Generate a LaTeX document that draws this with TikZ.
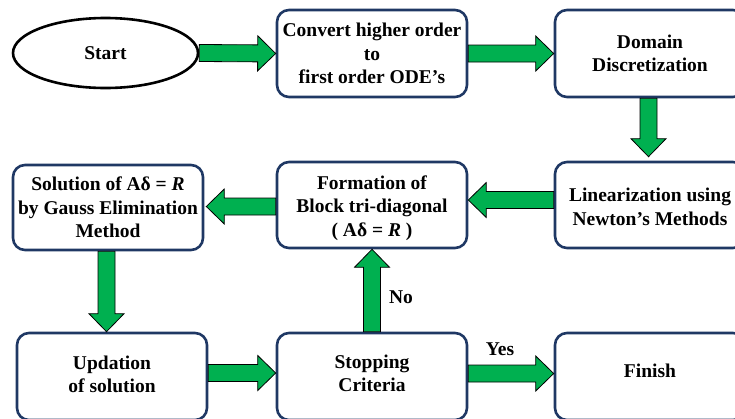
\documentclass[tikz,border=0pt]{standalone}
\usepackage{fontspec}
\setmainfont{Liberation Serif}
\usetikzlibrary{calc,shapes.geometric}
\definecolor{navy}{HTML}{1F3864}
\definecolor{agreen}{HTML}{00B050}
\tikzset{
  box/.style={draw=navy, line width=2.6pt, rounded corners=12pt, minimum width=190pt, minimum height=87pt, align=center, inner sep=0pt},
  txt/.style={font=\fontsize{19.5}{23.5}\selectfont\bfseries},
  blockarr/.style={fill=agreen, draw=black, line width=0.8pt, line join=miter},
}
\newcommand{\barrow}[2]{%
  \coordinate (bs) at (#1);
  \coordinate (be) at (#2);
  \coordinate (bh) at ($(be)!18pt!(bs)$);
  \draw[blockarr] ($(bs)!8.5pt!90:(be)$) -- ($(bh)!8.5pt!90:(be)$) -- ($(bh)!17.5pt!90:(be)$) -- (be)
    -- ($(bh)!17.5pt!-90:(be)$) -- ($(bh)!8.5pt!-90:(be)$) -- ($(bs)!8.5pt!-90:(be)$) -- cycle;}
\newcommand{\uplines}[2]{\raisebox{#1}[\height][\depth]{\begin{tabular}{@{}c@{}}#2\end{tabular}}}
\begin{document}
\begin{tikzpicture}[x=1pt,y=-1pt]
\useasboundingbox (0,0) rectangle (735,418);
\begin{scope}
\clip (0,0) rectangle (735,418);
\node[ellipse, draw=black, line width=2.6pt, minimum width=185pt, minimum height=70pt, txt] (start) at (105.5,53) {Start};
\node[box, txt] (conv) at (372,53.5) {Convert higher order\\to\\first order ODE’s};
\node[box, txt] (dom) at (650,53.5) {Domain\\Discretization};
\node[box, txt, minimum height=86pt] (lin) at (650,205) {\uplines{-4pt}{Linearization using\\Newton’s Methods}};
\node[box, txt, minimum height=86pt] (form) at (372,205) {\uplines{-3pt}{Formation of\\Block tri-diagonal\\( Aδ = \textit{R} )}};
\node[box, txt, minimum height=85pt] (sol) at (108,207.5) {Solution of Aδ = \textit{R}\\by Gauss Elimination\\Method};
\node[box, txt] (upd) at (112,376.5) {\uplines{0pt}{Updation\\of solution}};
\node[box, txt] (stop) at (372,376.5) {\uplines{1pt}{Stopping\\Criteria}};
\node[box, txt] (fin) at (650,376.5) {\uplines{4pt}{Finish}};

\barrow{start.east}{conv.west}
\barrow{conv.east}{dom.west}
\barrow{$(dom.south)+(-1.5,0)$}{$(lin.north)+(-1.5,-4)$}
\barrow{$(lin.west)+(0,-5)$}{$(form.east)+(0,-5)$}
\barrow{$(form.west)+(0,1.5)$}{$(sol.east)+(2,-1)$}
\barrow{$(sol.south)+(-1.5,0)$}{$(sol.south|-upd.north)+(-1.5,0)$}
\barrow{$(upd.east)+(0,-3.5)$}{$(stop.west)+(0,-3.5)$}
\barrow{$(stop.east)+(0,-3)$}{$(fin.west)+(0,-3)$}
\barrow{stop.north}{form.south}

\node[txt] (no) at (401,297) {No};
\node[txt] (yes) at (500,349) {Yes};
\end{scope}
\end{tikzpicture}
\end{document}
